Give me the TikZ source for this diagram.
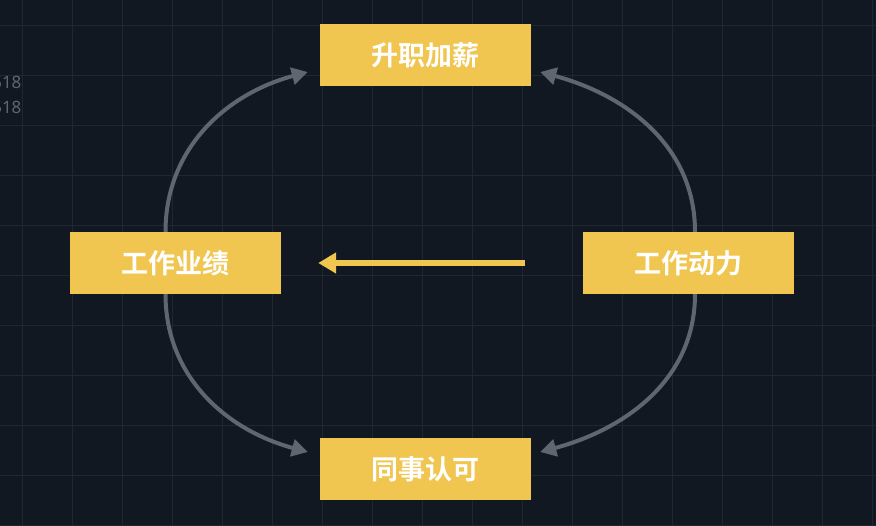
\documentclass[tikz,border=0pt]{standalone}
\usepackage{fontspec}
\newfontfamily\cjk{Noto Sans CJK SC Bold}
\newfontfamily\numfont{Noto Sans}
\usetikzlibrary{arrows.meta}
\definecolor{bgdark}{HTML}{111821}
\definecolor{gridline}{HTML}{1E2732}
\definecolor{boxyellow}{HTML}{F0C550}
\definecolor{arcgray}{HTML}{5F6670}
\begin{document}
\begin{tikzpicture}[x=1pt,y=1pt]
  \tikzset{stage/.style={fill=boxyellow,minimum width=211pt,minimum height=62pt,
                         inner sep=0pt,text=white,font=\cjk\fontsize{27}{27}\selectfont},
           cycle/.style={arcgray,line width=4pt,-{Triangle[length=16pt,width=17pt]}}}
  \fill[bgdark] (0,0) rectangle (876,526);
  \useasboundingbox (0,0) rectangle (876,526);
  % grid
  \foreach \gx in {22,72,...,872}
    \draw[gridline,line width=0.8pt] (\gx,0) -- (\gx,526);
  \foreach \gy in {1,51,...,501}
    \draw[gridline,line width=0.8pt] (0,\gy) -- (876,\gy);
  \node[anchor=east,text=arcgray,font=\numfont\fontsize{17}{17}\selectfont] (numa) at (25,444) {518};
  \node[anchor=east,text=arcgray,font=\numfont\fontsize{17}{17}\selectfont] (numb) at (25,419) {518};

  \node[stage] (promo) at (425.5,471) {升职加薪};
  \node[stage] (perf) at (175.5,263) {工作业绩};
  \node[stage] (drive) at (688,263) {工作动力};
  \node[stage] (peers) at (425.5,57) {同事认可};

  \draw[cycle] ([xshift=-10pt]perf.north) to[out=90,in=195] ([xshift=-12pt,yshift=-17pt]promo.west);
  \draw[cycle] ([xshift=7pt]drive.north) to[out=90,in=-15] ([xshift=9pt,yshift=-17pt]promo.east);
  \draw[cycle] ([xshift=-10pt]perf.south) to[out=-90,in=165] ([xshift=-12pt,yshift=17pt]peers.west);
  \draw[cycle] ([xshift=7pt]drive.south) to[out=-90,in=15] ([xshift=9pt,yshift=17pt]peers.east);

  \coordinate (mid) at (525,263);
  \draw[boxyellow,line width=6pt,-{Triangle[length=18pt,width=20pt]}] (mid) -- ([xshift=37pt]perf.east);
\end{tikzpicture}
\end{document}
